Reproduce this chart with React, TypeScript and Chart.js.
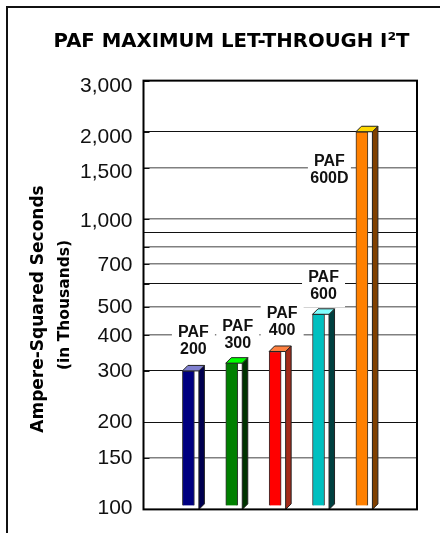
import { useEffect, useRef } from "react";
import { Chart, registerables } from "chart.js";

Chart.register(...registerables);

const chartTitle = "PAF MAXIMUM LET-THROUGH I\u00B2T";
const axisTitleLines = ["Ampere-Squared Seconds", "(in Thousands)"];
const categories = ["PAF 200", "PAF 300", "PAF 400", "PAF 600", "PAF 600D"];
const positions = [1, 2, 3, 4, 5];
const values = [300, 319, 350, 470, 2000];
const barBase = 103.2;
const gridValues = [100, 150, 200, 300, 400, 500, 600, 700, 800, 900, 1000, 1500, 2000, 3000];
const labelledTicks = [100, 150, 200, 300, 400, 500, 700, 1000, 1500, 2000, 3000];
const tickLabelNudge = [-1, 0, 0.5, 0, 2, 1, 1, 2, 4.5, 5, 6];
const softGridValues = [150, 400, 500, 700, 800, 1000, 1500];
const frontColors = ["#000080", "#008000", "#ff0000", "#00c0c0", "#ff8000"];
const capColors = ["#8080d0", "#00ff00", "#ff8040", "#80ffff", "#ffd800"];
const sideColors = ["#000050", "#003300", "#a52a1a", "#004040", "#804000"];
const labelOffsetX = [5, 6, 7, 5, -32.5];
const labelOffsetY = [-30, -28, -29, -28, 38];

const threeD = {
  id: "threeD",
  beforeDraw(chart: any) {
    // the reference's tick labels sit a little below their gridlines towards the top
    const y = chart.scales.y;
    y.getLabelItems().forEach((item: any) => {
      const v = Number(String(item.label).replace(/,/g, ""));
      const k = labelledTicks.indexOf(v);
      if (k >= 0 && !item.nudged) {
        item.options.translation[1] += tickLabelNudge[k];
        item.nudged = true;
      }
    });
  },
  beforeDatasetsDraw(chart: any) {
    const { ctx, chartArea, scales } = chart;
    ctx.save();
    ctx.strokeStyle = "#111";
    ctx.lineWidth = 1;
    gridValues.forEach((v) => {
      const y = Math.round(scales.y.getPixelForValue(v)) + 0.5;
      ctx.beginPath();
      ctx.moveTo(chartArea.left, y);
      ctx.lineTo(chartArea.left + 6, y);
      ctx.stroke();
    });
    ctx.restore();
  },
  afterDatasetsDraw(chart: any) {
    const { ctx, chartArea, scales } = chart;
    const meta = chart.getDatasetMeta(0);
    const depth = 5.5;
    const gap = 4.5;
    ctx.save();
    meta.data.forEach((bar: any, i: number) => {
      const x0 = bar.x - bar.width / 2;
      const x1 = bar.x + bar.width / 2;
      const top = bar.y;
      const xs = x1 + gap;
      const axisY = scales.y.getPixelForValue(100);
      ctx.lineWidth = 1;
      ctx.strokeStyle = "#222";
      ctx.fillStyle = sideColors[i];
      ctx.beginPath();
      ctx.moveTo(xs, top);
      ctx.lineTo(xs + depth, top - depth);
      ctx.lineTo(xs + depth, axisY - depth);
      ctx.lineTo(xs, axisY);
      ctx.closePath();
      ctx.fill();
      ctx.stroke();
      ctx.fillStyle = capColors[i];
      ctx.beginPath();
      ctx.moveTo(x0, top);
      ctx.lineTo(x0 + depth, top - depth);
      ctx.lineTo(xs + depth, top - depth);
      ctx.lineTo(xs, top);
      ctx.closePath();
      ctx.fill();
      ctx.stroke();
    });
    const boxW = 43;
    const boxH = 42;
    ctx.fillStyle = "#fff";
    meta.data.forEach((bar: any, i: number) => {
      const cx = bar.x + labelOffsetX[i];
      const cy = bar.y + labelOffsetY[i];
      ctx.fillRect(cx - boxW / 2, cy - boxH / 2, boxW, boxH);
    });
    ctx.fillStyle = "#111";
    ctx.font = "bold 16px 'Liberation Sans'";
    ctx.textAlign = "center";
    ctx.textBaseline = "middle";
    meta.data.forEach((bar: any, i: number) => {
      const cx = bar.x + labelOffsetX[i];
      const cy = bar.y + labelOffsetY[i];
      const [a, b] = categories[i].split(" ");
      ctx.fillText(a, cx, cy - 8.5);
      ctx.fillText(b, cx, cy + 8.5);
    });
    ctx.strokeStyle = "#000";
    ctx.lineWidth = 2;
    ctx.strokeRect(chartArea.left, chartArea.top, chartArea.right - chartArea.left, chartArea.bottom - chartArea.top);
    ctx.fillStyle = "#000";
    ctx.font = "bold 17px 'DejaVu Sans'";
    ctx.save();
    ctx.translate(38.5, 309);
    ctx.rotate(-Math.PI / 2);
    ctx.fillText(axisTitleLines[0], 0, 0);
    ctx.restore();
    ctx.font = "bold 15.5px 'DejaVu Sans'";
    ctx.save();
    ctx.translate(65, 305);
    ctx.rotate(-Math.PI / 2);
    ctx.fillText(axisTitleLines[1], 0, 0);
    ctx.restore();
    ctx.restore();
  },
  afterDraw(chart: any) {
    const { ctx, width, height } = chart;
    ctx.save();
    ctx.strokeStyle = "#111";
    ctx.lineWidth = 2;
    ctx.beginPath();
    ctx.moveTo(7, height);
    ctx.lineTo(7, 7);
    ctx.lineTo(width, 7);
    ctx.stroke();
    ctx.restore();
  },
};

export default function App() {
  const ref = useRef<HTMLCanvasElement>(null);
  useEffect(() => {
    const chart = new Chart(ref.current as HTMLCanvasElement, {
      type: "bar",
      data: {
        labels: categories,
        datasets: [
          {
            label: "Maximum let-through",
            data: positions.map((x, i) => ({ x, y: values[i] })) as any,
            base: barBase,
            backgroundColor: frontColors,
            borderColor: "#333",
            borderWidth: 1,
            barThickness: 12,
          },
        ],
      },
      plugins: [threeD],
      options: {
        responsive: false,
        animation: false,
        layout: { padding: { left: 46, right: 23, top: 0, bottom: 22.5 } },
        plugins: {
          legend: { display: false },
          tooltip: { enabled: false },
          title: {
            display: true,
            text: chartTitle,
            color: "#000",
            font: { family: "'DejaVu Sans'", weight: "bold", size: 19.7 },
            padding: { top: 30, bottom: 27 },
          },
        },
        scales: {
          x: {
            type: "linear",
            display: false,
            offset: false,
            min: -0.035,
            max: 6.27,
            grid: { display: false },
          },
          y: {
            type: "logarithmic",
            min: 100,
            max: 3000,
            border: { display: false },
            afterFit(scale: any) {
              scale.width = 97.5;
            },
            afterBuildTicks(scale: any) {
              scale.ticks = gridValues.map((value) => ({ value }));
            },
            grid: {
              drawTicks: false,
              color: (c: any) => (softGridValues.includes(c.tick?.value) ? "#808080" : "#111"),
              lineWidth: (c: any) => (softGridValues.includes(c.tick?.value) ? 1.6 : 1),
            },
            ticks: {
              autoSkip: false,
              padding: 11,
              color: "#111",
              font: { family: "'Liberation Sans'", size: 21 },
              callback: (v: any) => (labelledTicks.includes(Number(v)) ? Number(v).toLocaleString("en-US") : ""),
            },
          },
        },
      } as any,
    });
    return () => chart.destroy();
  }, []);
  return (
    <canvas
      ref={ref}
      width={440}
      height={533}
      style={{ position: "absolute", left: 0, top: 0, display: "block" }}
    />
  );
}
